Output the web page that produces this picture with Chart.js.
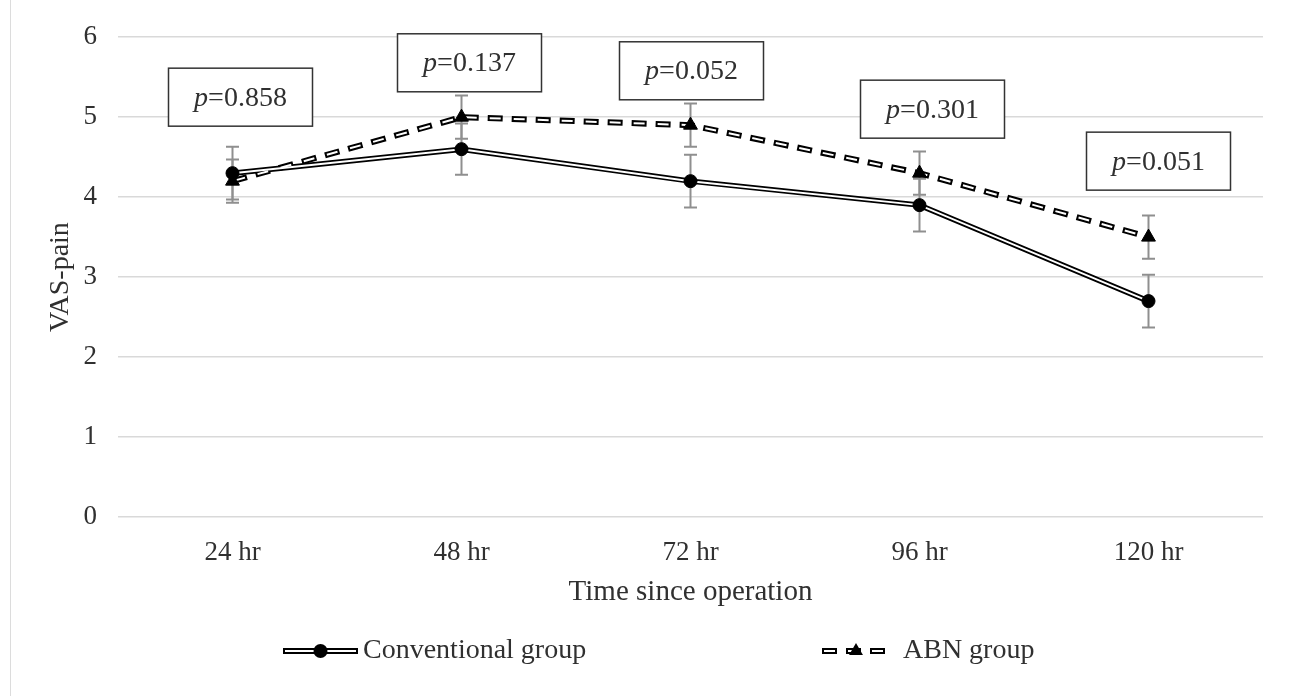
<!DOCTYPE html>
<html lang="en">
<head>
<meta charset="UTF-8">
<title>VAS-pain by time since operation</title>
<script src="https://cdn.jsdelivr.net/npm/chart.js"></script>
<style>
  body { margin: 0; background: white; }
  #wrap { position: relative; width: 1290px; height: 696px; }
</style>
</head>
<body>
<div id="wrap"><canvas id="chart"></canvas></div>
<script>
const categories = ['24 hr', '48 hr', '72 hr', '96 hr', '120 hr'];
const conventional = [4.3, 4.6, 4.2, 3.9, 2.7];
const conventionalErr = [0.33, 0.32, 0.33, 0.33, 0.33];
const abn = [4.2, 5.0, 4.9, 4.3, 3.5];
const abnErr = [0.27, 0.27, 0.27, 0.27, 0.27];
const pValues = ['0.858', '0.137', '0.052', '0.301', '0.051'];
const yMin = 0, yMax = 6, yStep = 1;

// p-value boxes: height in value units, small sideways nudge in px
const pBoxLevel = [5.25, 5.68, 5.58, 5.1, 4.45];
const pBoxNudge = [8, 8, 1, 13, 10];

const FONT = '"Liberation Serif", "Times New Roman", serif';
const TEXT = '#303030';
const dashOuter = [15, 9];
const dashInner = [11, 13];

// error bars, drawn under the lines
const errorBars = {
  id: 'errorBars',
  beforeDatasetsDraw(chart) {
    const {ctx, scales: {x, y}} = chart;
    const sets = [[conventional, conventionalErr], [abn, abnErr]];
    ctx.save();
    ctx.strokeStyle = '#8f8f8f';
    ctx.lineWidth = 2;
    sets.forEach(([vals, errs]) => {
      vals.forEach((v, i) => {
        const px = x.getPixelForValue(i);
        const top = y.getPixelForValue(v + errs[i]);
        const bot = y.getPixelForValue(v - errs[i]);
        ctx.beginPath();
        ctx.moveTo(px, top); ctx.lineTo(px, bot);
        ctx.moveTo(px - 6.5, top); ctx.lineTo(px + 6.5, top);
        ctx.moveTo(px - 6.5, bot); ctx.lineTo(px + 6.5, bot);
        ctx.stroke();
      });
    });
    ctx.restore();
  }
};

// boxed p-values with italic p
const pLabels = {
  id: 'pLabels',
  afterDraw(chart) {
    const {ctx, scales: {x, y}} = chart;
    ctx.save();
    pValues.forEach((p, i) => {
      const cx = x.getPixelForValue(i) + pBoxNudge[i];
      const cy = y.getPixelForValue(pBoxLevel[i]);
      const w = 144, h = 58;
      ctx.fillStyle = '#fff';
      ctx.fillRect(cx - w / 2, cy - h / 2, w, h);
      ctx.strokeStyle = '#333';
      ctx.lineWidth = 1.5;
      ctx.strokeRect(cx - w / 2, cy - h / 2, w, h);
      ctx.font = 'italic 28px ' + FONT;
      const wp = ctx.measureText('p').width;
      ctx.font = '28px ' + FONT;
      const wr = ctx.measureText('=' + p).width;
      const tx = cx - (wp + wr) / 2;
      ctx.fillStyle = TEXT;
      ctx.textBaseline = 'middle';
      ctx.textAlign = 'left';
      ctx.font = 'italic 28px ' + FONT;
      ctx.fillText('p', tx, cy + 1);
      ctx.font = '28px ' + FONT;
      ctx.fillText('=' + p, tx + wp, cy + 1);
    });
    // thin frame line at the left edge
    ctx.strokeStyle = '#dcdcdc';
    ctx.lineWidth = 1;
    ctx.beginPath();
    ctx.moveTo(10.5, 0); ctx.lineTo(10.5, chart.height);
    ctx.stroke();
    ctx.restore();
  }
};

// legend like Excel's: line sample with the marker in the middle
const legendSpots = [
  { ds: 0, x: 283, w: 75, textX: 363 },
  { ds: 1, x: 822, w: 68, textX: 903 }
];
const sampleLegend = {
  id: 'sampleLegend',
  afterDraw(chart) {
    const {ctx} = chart;
    const ly = 651;
    ctx.save();
    legendSpots.forEach(s => {
      const ds = chart.data.datasets[s.ds];
      const dashed = ds.borderDash && ds.borderDash.length;
      ctx.lineCap = 'butt';
      ctx.strokeStyle = '#000';
      ctx.lineWidth = 6;
      ctx.setLineDash(dashed ? dashOuter : []);
      ctx.lineDashOffset = 0;
      ctx.beginPath(); ctx.moveTo(s.x, ly); ctx.lineTo(s.x + s.w, ly); ctx.stroke();
      ctx.strokeStyle = '#fff';
      ctx.lineWidth = 2;
      ctx.setLineDash(dashed ? dashInner : []);
      ctx.lineDashOffset = dashed ? -2 : 0;
      ctx.beginPath(); ctx.moveTo(s.x + (dashed ? 0 : 2), ly); ctx.lineTo(s.x + s.w - (dashed ? 0 : 2), ly); ctx.stroke();
      ctx.setLineDash([]);
      ctx.fillStyle = '#000';
      const mx = s.x + s.w / 2;
      ctx.beginPath();
      if (ds.pointStyle === 'triangle') {
        const r = 8;
        ctx.moveTo(mx, ly - r);
        ctx.lineTo(mx + r * 0.866, ly + r / 2);
        ctx.lineTo(mx - r * 0.866, ly + r / 2);
        ctx.closePath();
      } else {
        ctx.arc(mx, ly, 7, 0, Math.PI * 2);
      }
      ctx.fill();
      ctx.fillStyle = TEXT;
      ctx.font = '28px ' + FONT;
      ctx.textBaseline = 'middle';
      ctx.textAlign = 'left';
      ctx.fillText(ds.label, s.textX, ly);
    });
    ctx.restore();
  }
};

new Chart(document.getElementById('chart'), {
  type: 'line',
  data: {
    labels: categories,
    datasets: [
      {
        label: 'Conventional group', data: conventional,
        borderColor: '#fff', borderWidth: 2,
        pointStyle: 'circle', pointRadius: 6.5, pointBackgroundColor: '#000',
        pointBorderColor: '#000', pointBorderWidth: 1
      },
      {
        label: 'ABN group', data: abn,
        borderColor: '#fff', borderWidth: 2, borderDash: dashInner, borderDashOffset: -2,
        pointStyle: 'triangle', pointRadius: 8, pointBackgroundColor: '#000',
        pointBorderColor: '#000', pointBorderWidth: 1
      },
      {
        label: 'conv-outline', data: conventional,
        borderColor: '#000', borderWidth: 5.5, pointRadius: 0
      },
      {
        label: 'abn-outline', data: abn,
        borderColor: '#000', borderWidth: 6, borderDash: dashOuter, pointRadius: 0
      }
    ]
  },
  options: {
    responsive: true,
    maintainAspectRatio: false,
    animation: false,
    layout: { padding: { left: 0, right: 27, top: 37, bottom: 79 } },
    plugins: {
      legend: { display: false },
      tooltip: { enabled: false }
    },
    scales: {
      x: {
        offset: true,
        grid: { display: false, drawTicks: false, offset: true },
        border: { display: false },
        ticks: { color: TEXT, font: { family: FONT, size: 27 }, padding: 20 },
        title: {
          display: true, text: 'Time since operation', color: TEXT,
          font: { family: FONT, size: 29 }, padding: { top: 0, bottom: 7 }
        },
        afterFit(scale) { scale.height = 100; }
      },
      y: {
        min: yMin, max: yMax,
        ticks: { stepSize: yStep, color: TEXT, font: { family: FONT, size: 27 }, padding: 21 },
        grid: { color: '#d9d9d9', lineWidth: 1.5, drawTicks: false },
        border: { display: false },
        title: {
          display: true, text: 'VAS-pain', color: TEXT,
          font: { family: FONT, size: 28 }, padding: { top: 44, bottom: 0 }
        },
        afterFit(scale) { scale.width = 118; }
      }
    }
  },
  plugins: [errorBars, pLabels, sampleLegend]
});
</script>
</body>
</html>
